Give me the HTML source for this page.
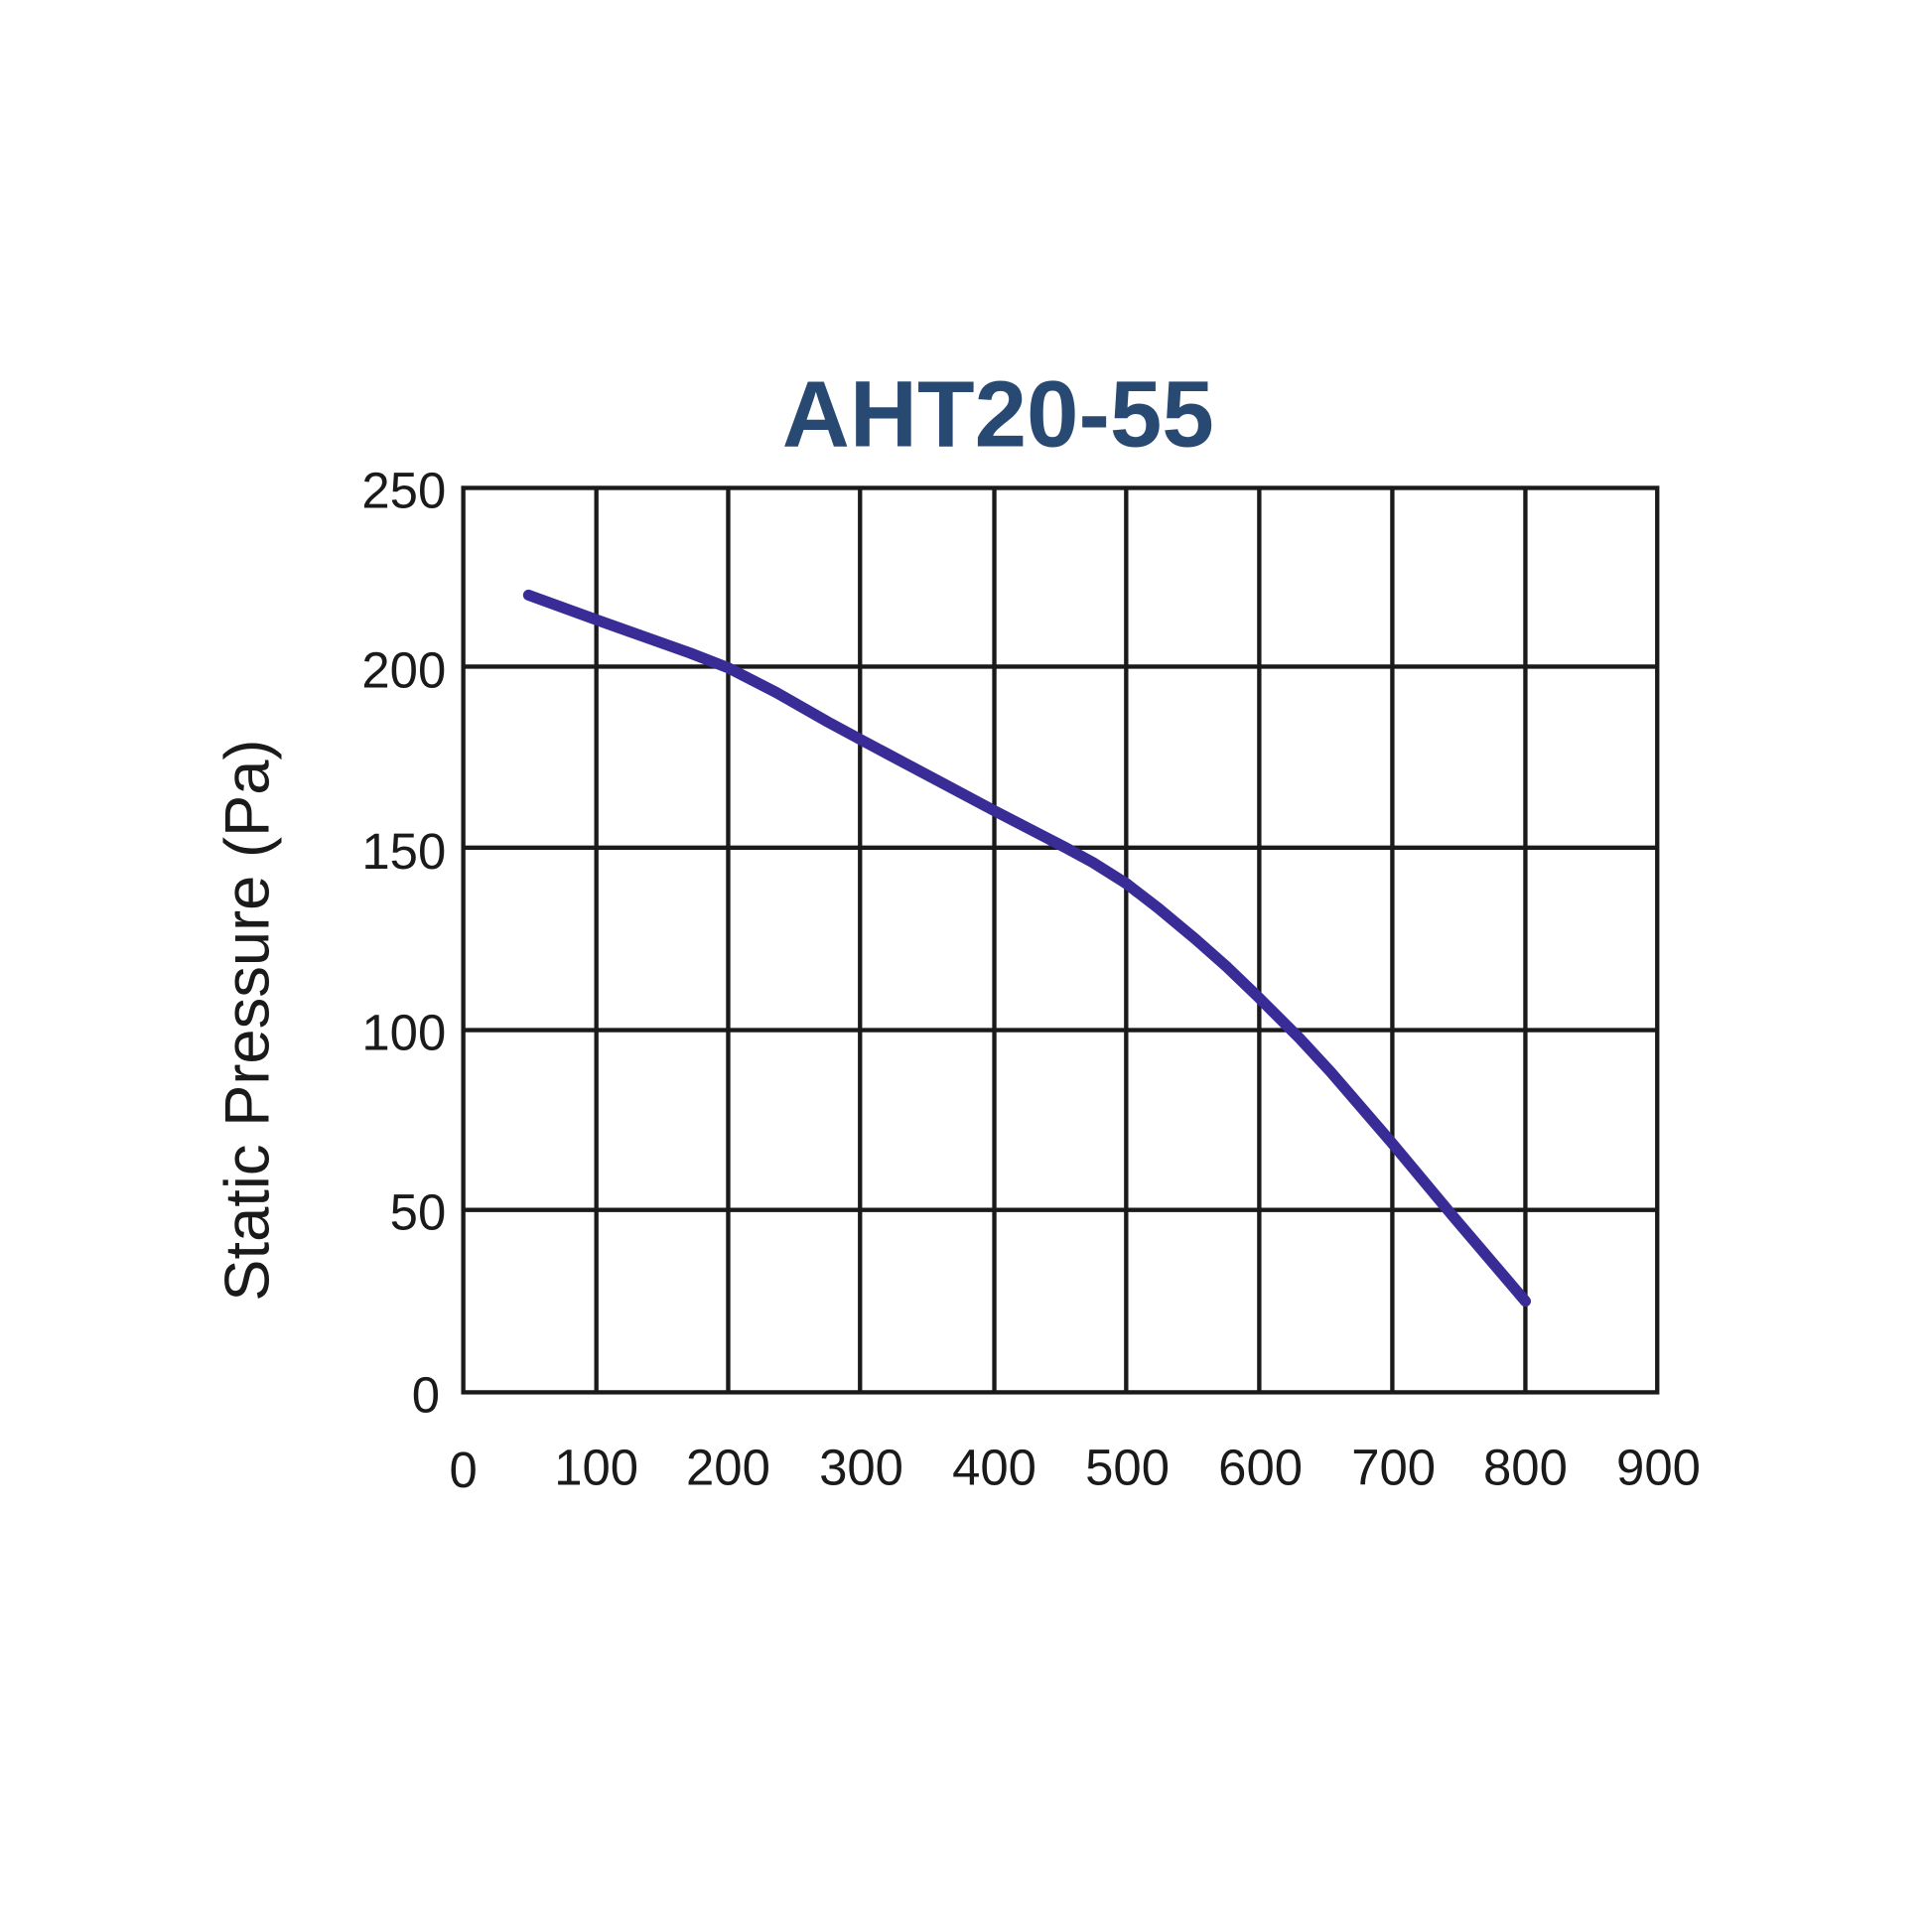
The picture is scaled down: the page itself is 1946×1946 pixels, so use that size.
<!DOCTYPE html>
<html><head><style>html,body{margin:0;padding:0;background:#fff}svg{display:block}</style></head>
<body>
<svg width="1946" height="1946" viewBox="0 0 1568 1568" xmlns="http://www.w3.org/2000/svg" font-family="Liberation Sans, DejaVu Sans, sans-serif">
<rect width="1568" height="1568" fill="#fff"/>
<text x="810" y="362" text-anchor="middle" font-size="76" font-weight="bold" fill="#284a72">AHT20-55</text>
<g stroke="#1a1a1a" stroke-width="3.5" fill="none">
<path d="M484 396V1130M591 396V1130M698 396V1130M807 396V1130M914 396V1130M1022 396V1130M1130 396V1130M1238 396V1130"/>
<path d="M376 541H1345M376 688H1345M376 836H1345M376 982H1345"/>
<rect x="376" y="396" width="969" height="734"/>
</g>
<path d="M429 483 L484 503 L560 530 L591 542 L630 562 L672 586 L698 600 L760 633 L807 658 L865 688 L887 700 L914 717 L940 737 L970 762 L996 785 L1022 810 L1055 843 L1080 870 L1130 928 L1180 988 L1238 1056" fill="none" stroke="#3a2c97" stroke-width="9" stroke-linecap="round" stroke-linejoin="round"/>
<g font-size="41" fill="#1a1a1a" text-anchor="end">
<text x="362" y="412">250</text><text x="362" y="558">200</text><text x="362" y="705">150</text><text x="362" y="852">100</text><text x="362" y="998">50</text><text x="357" y="1146">0</text>
</g>
<g font-size="41" fill="#1a1a1a" text-anchor="middle">
<text x="376" y="1207">0</text><text x="484" y="1205">100</text><text x="591" y="1205">200</text><text x="699" y="1205">300</text><text x="807" y="1205">400</text><text x="915" y="1205">500</text><text x="1023" y="1205">600</text><text x="1131" y="1205">700</text><text x="1238" y="1205">800</text><text x="1346" y="1205">900</text>
</g>
<text transform="translate(218,828) rotate(-90)" text-anchor="middle" font-size="51" fill="#1a1a1a">Static Pressure (Pa)</text>
</svg>
</body></html>
